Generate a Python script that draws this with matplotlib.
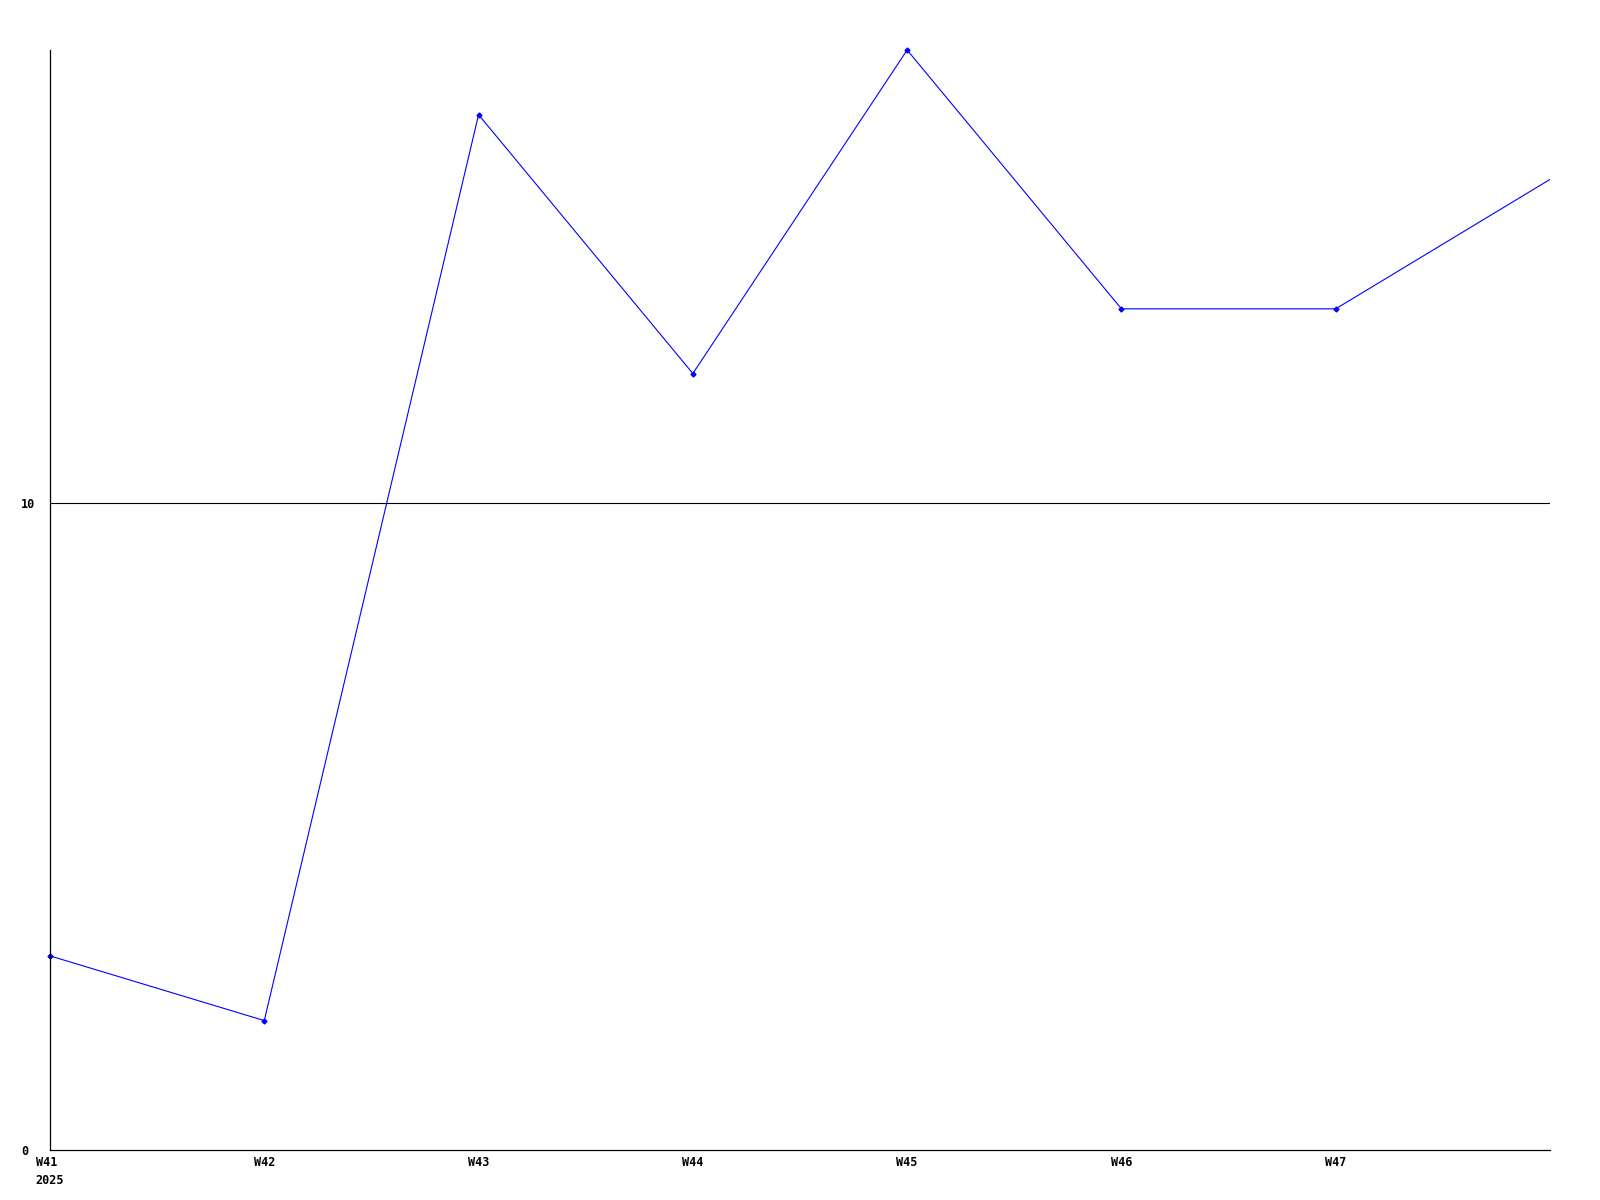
import matplotlib
matplotlib.use("Agg")
import matplotlib.pyplot as plt

WEEKS = ["W41", "W42", "W43", "W44", "W45", "W46", "W47", "W48"]
VALUES = [3, 2, 16, 12, 17, 13, 13, 15]
TICK_LABELS = ["W41\n2025", "W42", "W43", "W44", "W45", "W46", "W47"]
Y_TICKS = [0, 10]

plt.rcParams["font.family"] = "DejaVu Sans Mono"
plt.rcParams["font.weight"] = "bold"

fig = plt.figure(figsize=(16, 12), dpi=100)
ax = fig.add_axes([50 / 1600, 50 / 1200, 1500 / 1600, 1100 / 1200])

x = list(range(len(WEEKS)))
ax.plot(x, VALUES, color="#0000ff", lw=0.8)
ax.plot(x[:-1], VALUES[:-1], ls="none", marker="D", ms=2.5, color="#0000ff", clip_on=False)

ax.set_xlim(0, len(WEEKS) - 1)
ax.set_ylim(0, max(VALUES))
ax.axhline(10, color="black", lw=0.8)

ax.set_xticks(x[:-1])
ax.set_xticklabels(TICK_LABELS, fontsize=8.5, fontweight="bold", ha="center",
                   multialignment="left", linespacing=1.5)
ax.set_yticks(Y_TICKS)
ax.set_yticklabels([str(v) for v in Y_TICKS], fontsize=8.5, fontweight="bold", ha="left")
ax.tick_params(length=0, pad=21, axis="y")
ax.tick_params(length=0, pad=4, axis="x")

for s in ["top", "right"]:
    ax.spines[s].set_visible(False)
for s in ["left", "bottom"]:
    ax.spines[s].set_linewidth(0.9)

fig.savefig("out.png", dpi=100)
